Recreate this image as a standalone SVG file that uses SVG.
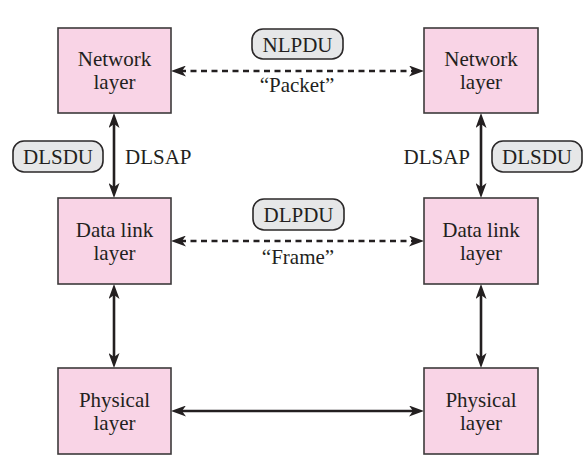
<svg xmlns="http://www.w3.org/2000/svg" width="588" height="464" viewBox="0 0 588 464">
<style>
.box{fill:#f9d4e6;stroke:#3d3a3b;stroke-width:1.6}
.pill{fill:#e6e7e8;stroke:#2b2829;stroke-width:1.6}
text{font-family:"Liberation Serif","Times New Roman",serif;font-size:21px;fill:#231f20}
.c{text-anchor:middle}
.ln{stroke:#231f20;stroke-width:2.6;fill:none}
.dash{stroke-dasharray:6 4.5}
</style>
<defs>
<marker id="ah" viewBox="0 0 15 11" refX="6" refY="5.5" markerWidth="15" markerHeight="11" markerUnits="userSpaceOnUse" orient="auto-start-reverse">
<path d="M0,0 L15,5.5 L0,11 L4,5.5 z" fill="#231f20"/>
</marker>
</defs>
<rect width="588" height="464" fill="#fff"/>
<g id="connectors">
<line class="ln dash" x1="180" y1="71" x2="415" y2="71" marker-start="url(#ah)" marker-end="url(#ah)"/>
<line class="ln dash" x1="180" y1="241" x2="415" y2="241" marker-start="url(#ah)" marker-end="url(#ah)"/>
<line class="ln" x1="180" y1="411" x2="415" y2="411" marker-start="url(#ah)" marker-end="url(#ah)"/>
<line class="ln" x1="114" y1="122" x2="114" y2="189" marker-start="url(#ah)" marker-end="url(#ah)"/>
<line class="ln" x1="114" y1="293" x2="114" y2="359" marker-start="url(#ah)" marker-end="url(#ah)"/>
<line class="ln" x1="481" y1="122" x2="481" y2="189" marker-start="url(#ah)" marker-end="url(#ah)"/>
<line class="ln" x1="481" y1="293" x2="481" y2="359" marker-start="url(#ah)" marker-end="url(#ah)"/>
</g>
<g id="net-left"><rect class="box" x="58" y="28" width="113" height="85"/><text class="c" x="114.5" y="66">Network</text><text class="c" x="114.5" y="89">layer</text></g>
<g id="net-right"><rect class="box" x="424" y="28" width="114" height="85"/><text class="c" x="481" y="66">Network</text><text class="c" x="481" y="89">layer</text></g>
<g id="dl-left"><rect class="box" x="58" y="198" width="113" height="86"/><text class="c" x="114.5" y="237">Data link</text><text class="c" x="114.5" y="260">layer</text></g>
<g id="dl-right"><rect class="box" x="424" y="198" width="114" height="86"/><text class="c" x="481" y="237">Data link</text><text class="c" x="481" y="260">layer</text></g>
<g id="ph-left"><rect class="box" x="58" y="368" width="113" height="86"/><text class="c" x="114.5" y="407">Physical</text><text class="c" x="114.5" y="430">layer</text></g>
<g id="ph-right"><rect class="box" x="424" y="368" width="114" height="86"/><text class="c" x="481" y="407">Physical</text><text class="c" x="481" y="430">layer</text></g>
<g id="nlpdu"><rect class="pill" x="252" y="29" width="91" height="30" rx="11"/><text class="c" x="297.5" y="51.5">NLPDU</text></g>
<g id="dlpdu"><rect class="pill" x="253" y="199" width="91" height="31" rx="11"/><text class="c" x="298.5" y="222">DLPDU</text></g>
<g id="dlsdu-left"><rect class="pill" x="13" y="141" width="90" height="31" rx="11"/><text class="c" x="58" y="164">DLSDU</text></g>
<g id="dlsdu-right"><rect class="pill" x="492" y="141" width="90" height="31" rx="11"/><text class="c" x="537" y="164">DLSDU</text></g>
<g id="labels">
<text class="c" x="297" y="92">“Packet”</text>
<text class="c" x="298" y="264">“Frame”</text>
<text x="125" y="164">DLSAP</text>
<text x="470" y="164" text-anchor="end">DLSAP</text>
</g>
</svg>
